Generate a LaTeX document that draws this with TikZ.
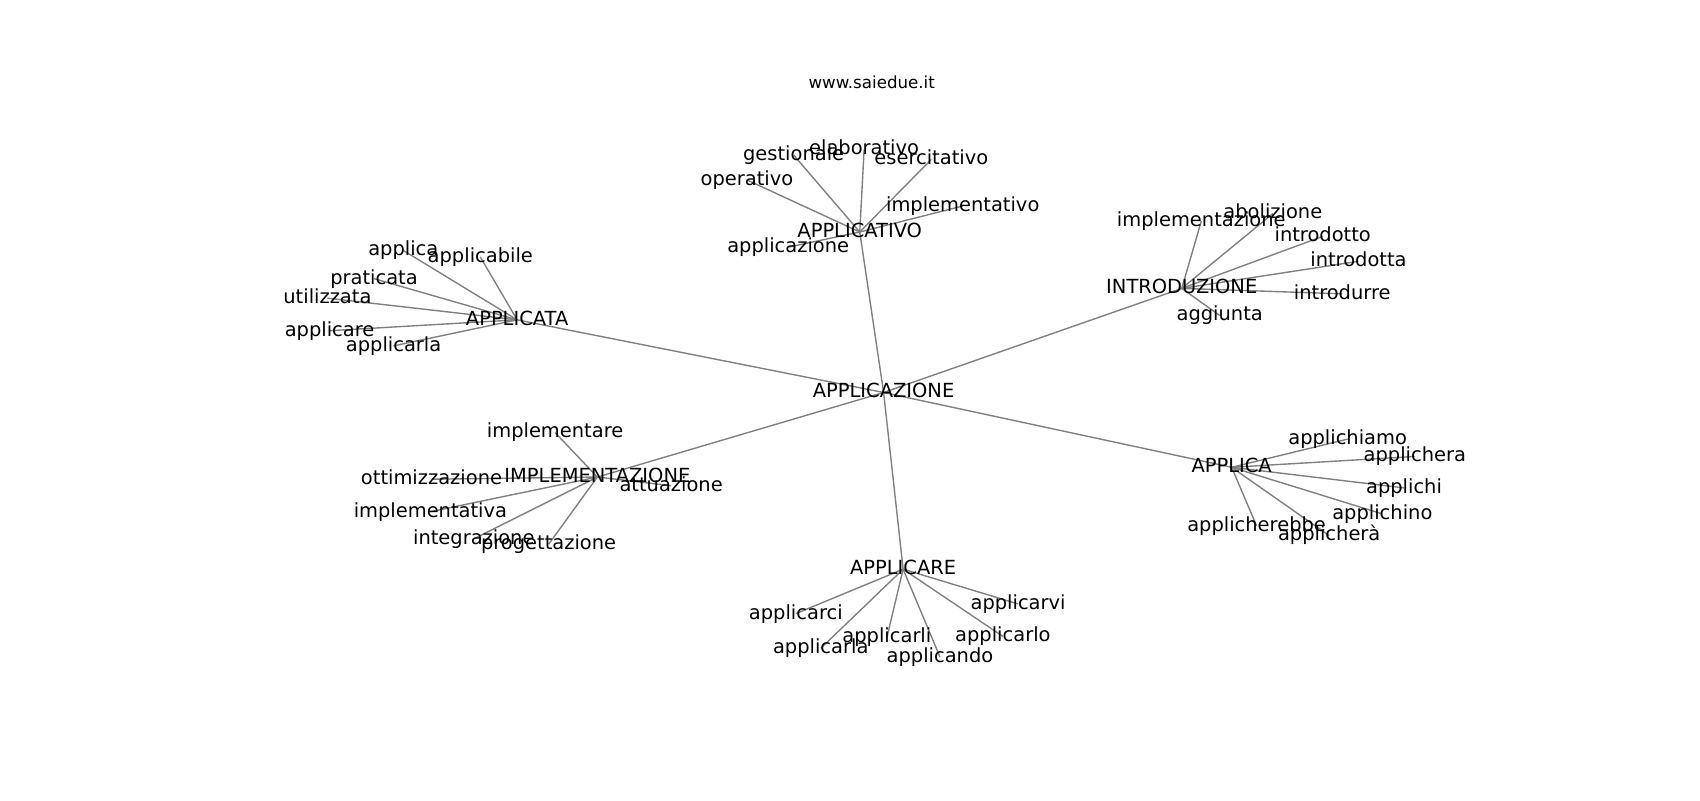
\documentclass[tikz,border=0pt]{standalone}
\usepackage{fontspec}
\setmainfont{DejaVu Sans}
\usetikzlibrary{backgrounds}
\begin{document}
\begin{tikzpicture}[x=0.7805pt, y=-0.7805pt,
word/.style={font=\fontsize{14}{16}\selectfont, text height=10.64pt, text depth=2.91pt, inner sep=0pt},
link/.style={draw=gray, line width=1pt}]
\useasboundingbox (0,0) rectangle (1568,738);
\node[font=\fontsize{12}{14}\selectfont] (title) at (804,76){www.saiedue.it};
\node[word] (wid0) at (815,362){APPLICAZIONE};
\node[word] (wid1) at (793,214){APPLICATIVO};
\node[word] (wid2) at (477,295){APPLICATA};
\node[word] (wid3) at (1090,266){INTRODUZIONE};
\node[word] (wid4) at (551,440){IMPLEMENTAZIONE};
\node[word] (wid5) at (1136,431){APPLICA};
\node[word] (wid6) at (833,525){APPLICARE};
\node[word] (wid7) at (732,143){gestionale};
\node[word] (wid8) at (797,138){elaborativo};
\node[word] (wid9) at (859,147){esercitativo};
\node[word] (wid10) at (689,166){operativo};
\node[word] (wid11) at (888,190){implementativo};
\node[word] (wid12) at (727,228){applicazione};
\node[word] (wid13) at (372,231){applica};
\node[word] (wid14) at (443,237){applicabile};
\node[word] (wid15) at (345,257){praticata};
\node[word] (wid16) at (302,275){utilizzata};
\node[word] (wid17) at (304,305){applicare};
\node[word] (wid18) at (363,319){applicarla};
\node[word] (wid19) at (1108,204){implementazione};
\node[word] (wid20) at (1174,197){abolizione};
\node[word] (wid21) at (1220,218){introdotto};
\node[word] (wid22) at (1253,241){introdotta};
\node[word] (wid23) at (1238,271){introdurre};
\node[word] (wid24) at (1125,291){aggiunta};
\node[word] (wid25) at (512,399){implementare};
\node[word] (wid26) at (398,442){ottimizzazione};
\node[word] (wid27) at (619,448){attuazione};
\node[word] (wid28) at (397,472){implementativa};
\node[word] (wid29) at (437,497){integrazione};
\node[word] (wid30) at (506,502){progettazione};
\node[word] (wid31) at (1243,405){applichiamo};
\node[word] (wid32) at (1305,421){applichera};
\node[word] (wid33) at (1295,450){applichi};
\node[word] (wid34) at (1275,474){applichino};
\node[word] (wid35) at (1159,485){applicherebbe};
\node[word] (wid36) at (1226,494){applicherà};
\node[word] (wid37) at (734,566){applicarci};
\node[word] (wid38) at (757,598){applicarla};
\node[word] (wid39) at (818,588){applicarli};
\node[word] (wid40) at (867,606){applicando};
\node[word] (wid41) at (925,587){applicarlo};
\node[word] (wid42) at (939,557){applicarvi};
\begin{scope}[on background layer]
\draw[link](wid0.center) -- (wid1.center);
\draw[link](wid0.center) -- (wid2.center);
\draw[link](wid0.center) -- (wid3.center);
\draw[link](wid0.center) -- (wid4.center);
\draw[link](wid0.center) -- (wid5.center);
\draw[link](wid0.center) -- (wid6.center);
\draw[link](wid1.center) -- (wid7.center);
\draw[link](wid1.center) -- (wid8.center);
\draw[link](wid1.center) -- (wid9.center);
\draw[link](wid1.center) -- (wid10.center);
\draw[link](wid1.center) -- (wid11.center);
\draw[link](wid1.center) -- (wid12.center);
\draw[link](wid2.center) -- (wid13.center);
\draw[link](wid2.center) -- (wid14.center);
\draw[link](wid2.center) -- (wid15.center);
\draw[link](wid2.center) -- (wid16.center);
\draw[link](wid2.center) -- (wid17.center);
\draw[link](wid2.center) -- (wid18.center);
\draw[link](wid3.center) -- (wid19.center);
\draw[link](wid3.center) -- (wid20.center);
\draw[link](wid3.center) -- (wid21.center);
\draw[link](wid3.center) -- (wid22.center);
\draw[link](wid3.center) -- (wid23.center);
\draw[link](wid3.center) -- (wid24.center);
\draw[link](wid4.center) -- (wid25.center);
\draw[link](wid4.center) -- (wid26.center);
\draw[link](wid4.center) -- (wid27.center);
\draw[link](wid4.center) -- (wid28.center);
\draw[link](wid4.center) -- (wid29.center);
\draw[link](wid4.center) -- (wid30.center);
\draw[link](wid5.center) -- (wid31.center);
\draw[link](wid5.center) -- (wid32.center);
\draw[link](wid5.center) -- (wid33.center);
\draw[link](wid5.center) -- (wid34.center);
\draw[link](wid5.center) -- (wid35.center);
\draw[link](wid5.center) -- (wid36.center);
\draw[link](wid6.center) -- (wid37.center);
\draw[link](wid6.center) -- (wid38.center);
\draw[link](wid6.center) -- (wid39.center);
\draw[link](wid6.center) -- (wid40.center);
\draw[link](wid6.center) -- (wid41.center);
\draw[link](wid6.center) -- (wid42.center);
\end{scope}
\end{tikzpicture}
\end{document}
